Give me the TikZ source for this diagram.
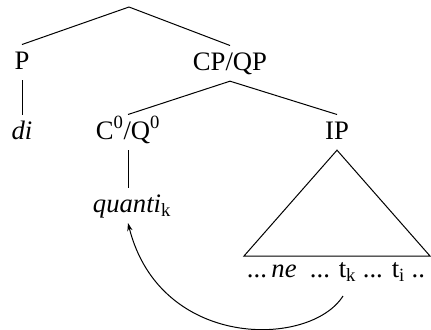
\documentclass[tikz,border=0pt]{standalone}
\usepackage{fontspec}
\setmainfont{Liberation Serif}
\usetikzlibrary{arrows.meta}
\begin{document}
\begin{tikzpicture}[x=0.75pt, y=-0.75pt, line width=0.75pt,
  font=\fontsize{20}{23}\selectfont,
  cat/.style={inner sep=5pt, text height=13pt, text depth=3pt, anchor=base}]
  \useasboundingbox (0,0) rectangle (431,329);
  \coordinate (root) at (129,7);
  \node[cat] (p) at (22,69) {P};
  \node[cat] (cpqp) at (230,70) {CP/QP};
  \node[cat] (di) at (22,139) {\textit{di}};
  \node[cat] (cq) at (128,139) {C\textsuperscript{0}/Q\textsuperscript{0}};
  \node[cat] (ip) at (337,139) {IP};
  \node[cat] (qk) at (132,212) {\textit{quanti}\textsubscript{k}};
  \node[cat] (yield) at (336,277) {...\,\textit{ne}\enspace ... t\textsubscript{k} ... t\textsubscript{i} ..};
  \coordinate (bl) at (244,256);
  \coordinate (br) at (430,256);
  \coordinate (trace) at (343,296);
  \coordinate (land) at (128,223);
  % branches
  \draw (root) -- (p.north);
  \draw (root) -- (cpqp.north);
  \draw (p.south) -- (di.north);
  \draw (cpqp.south) -- (cq.north);
  \draw (cpqp.south) -- (ip.north);
  \draw (cq.south) -- (cq.south |- qk.north);
  \draw (ip.south) -- (bl) -- (br) -- cycle;
  % movement
  \draw[-{Stealth[length=6pt,width=4pt]}] (trace) .. controls (310,348) and (160,350) .. (land);
\end{tikzpicture}
\end{document}
